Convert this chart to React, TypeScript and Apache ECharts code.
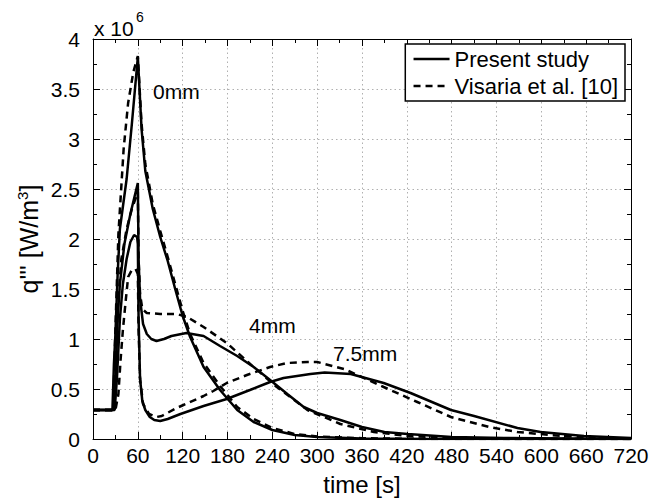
import React, { useEffect, useRef } from "react";
import * as echarts from "echarts";

const FONT = "'Liberation Sans', Arial, Helvetica, sans-serif";

// x-axis ticks (time [s]) and y-axis ticks (x 10^6 W/m^3)
const X_MIN = 0;
const X_MAX = 720;
const X_STEP = 60;
const Y_MIN = 0;
const Y_MAX = 4;
const Y_STEP = 0.5;

// Present study (solid)
const present0T = [0, 26, 28, 30, 33, 36, 45, 52, 60, 65, 70, 80, 90, 100, 110, 120, 130, 148, 170, 193, 215, 240, 270, 300, 360, 450, 720];
const present0V = [0.29, 0.29, 0.75, 1.05, 1.65, 2.1, 2.6, 3.15, 3.82, 3.1, 2.68, 2.3, 2.02, 1.78, 1.5, 1.23, 1.02, 0.72, 0.49, 0.29, 0.17, 0.09, 0.04, 0.02, 0.005, 0, 0];

const present4T = [0, 27, 30, 33, 36, 42, 50, 60, 61, 63, 67, 72, 78, 85, 95, 105, 125, 148, 170, 193, 215, 237, 260, 282, 300, 331, 360, 390, 421, 480, 550, 720];
const present4V = [0.29, 0.29, 0.6, 1.2, 1.55, 1.95, 2.25, 2.56, 1.8, 1.4, 1.15, 1.05, 1.0, 0.98, 1.0, 1.03, 1.06, 1.03, 0.93, 0.83, 0.72, 0.59, 0.45, 0.32, 0.26, 0.19, 0.12, 0.07, 0.05, 0.02, 0.01, 0];

const present75T = [0, 29, 32, 36, 40, 45, 50, 55, 59, 60, 61, 63, 66, 70, 76, 82, 90, 100, 117, 148, 179, 210, 237, 255, 291, 310, 345, 389, 425, 479, 510, 568, 599, 657, 720];
const present75V = [0.29, 0.29, 0.6, 1.2, 1.55, 1.8, 1.97, 2.04, 2.02, 1.95, 1.2, 0.6, 0.38, 0.29, 0.22, 0.19, 0.18, 0.2, 0.25, 0.33, 0.4, 0.49, 0.57, 0.61, 0.65, 0.665, 0.65, 0.56, 0.46, 0.29, 0.23, 0.11, 0.07, 0.03, 0.01];

// Visaria et al. [10] (dashed)
const visaria0T = [0, 27, 30, 34, 41, 47, 54, 60, 65, 70, 80, 90, 100, 110, 120, 130, 148, 170, 193, 215, 240, 270, 300, 360, 450, 720];
const visaria0V = [0.29, 0.29, 1.1, 2.05, 2.9, 3.36, 3.67, 3.83, 3.15, 2.75, 2.35, 2.08, 1.82, 1.55, 1.28, 1.05, 0.76, 0.53, 0.32, 0.2, 0.11, 0.05, 0.025, 0.008, 0, 0];

const visaria4T = [0, 27, 30, 33, 38, 45, 52, 60, 61, 63, 66, 72, 90, 112, 126, 148, 179, 215, 246, 287, 331, 376, 421, 480, 560, 720];
const visaria4V = [0.29, 0.29, 0.65, 1.3, 1.8, 2.1, 2.3, 2.47, 1.8, 1.45, 1.3, 1.26, 1.25, 1.25, 1.22, 1.12, 0.96, 0.72, 0.52, 0.29, 0.15, 0.07, 0.03, 0.01, 0, 0];

const visaria75T = [0, 30, 34, 37, 40, 44, 47, 52, 57, 60, 61, 63, 67, 75, 85, 92, 112, 121, 148, 161, 179, 206, 237, 260, 287, 300, 336, 389, 434, 479, 530, 568, 613, 657, 720];
const visaria75V = [0.29, 0.29, 0.45, 0.8, 1.09, 1.4, 1.62, 1.69, 1.7, 1.65, 1.1, 0.6, 0.35, 0.25, 0.22, 0.23, 0.31, 0.34, 0.43, 0.48, 0.56, 0.64, 0.72, 0.76, 0.77, 0.77, 0.7, 0.52, 0.37, 0.22, 0.12, 0.07, 0.04, 0.015, 0];

const SOLID_NAME = "Present study";
const DASHED_NAME = "Visaria et al. [10]";

const zip = (t: number[], v: number[]) => t.map((x, i) => [x, v[i]]);

export default function App() {
  const ref = useRef<HTMLDivElement>(null);

  useEffect(() => {
    document.body.style.margin = "0";
    const chart = echarts.init(ref.current!, null, { renderer: "svg" });

    const solid = (t: number[], v: number[]) => ({
      type: "line",
      name: SOLID_NAME,
      data: zip(t, v),
      showSymbol: false,
      symbol: "none",
      lineStyle: { color: "#000", width: 2.5, type: "solid" },
      itemStyle: { color: "#000" },
      z: 3,
    });
    const dashed = (t: number[], v: number[]) => ({
      type: "line",
      name: DASHED_NAME,
      data: zip(t, v),
      showSymbol: false,
      symbol: "none",
      lineStyle: { color: "#000", width: 2.5, type: [7, 5] },
      itemStyle: { color: "#000" },
      z: 3,
    });

    const tickCommon = {
      axisLine: { show: true, onZero: false, lineStyle: { color: "#000", width: 1 } },
      axisTick: { show: true, inside: true, length: 7, lineStyle: { color: "#000", width: 1 } },
      minorTick: { show: true, splitNumber: 2, length: 4, lineStyle: { color: "#000", width: 1 } },
    };

    chart.setOption({
      animation: false,
      backgroundColor: "#fff",
      grid: { left: 93, top: 39, width: 538, height: 400, containLabel: false, outerBoundsMode: "none" },
      legend: {
        data: [SOLID_NAME, DASHED_NAME],
        orient: "vertical",
        right: 27,
        top: 44,
        itemWidth: 36,
        itemHeight: 14,
        itemGap: 5,
        padding: [4, 7, 4, 7],
        backgroundColor: "#fff",
        borderColor: "#000",
        borderWidth: 1.5,
        borderRadius: 0,
        itemStyle: { color: "rgba(0,0,0,0)", borderWidth: 0, opacity: 0 },
        lineStyle: { width: 2.5 },
        textStyle: { fontSize: 22, color: "#000", fontFamily: FONT },
      },
      xAxis: [
        {
          type: "value",
          min: X_MIN,
          max: X_MAX,
          interval: X_STEP,
          position: "bottom",
          name: "time [s]",
          nameLocation: "middle",
          nameGap: 33,
          nameMoveOverlap: false,
          nameTextStyle: { fontSize: 24, color: "#000", fontFamily: FONT },
          axisLabel: { fontSize: 21, color: "#000", fontFamily: FONT, margin: 6 },
          splitLine: { show: true, lineStyle: { color: "#b0b0b0", width: 1, type: [1.5, 3] } },
          ...tickCommon,
        },
        {
          type: "value",
          min: X_MIN,
          max: X_MAX,
          interval: X_STEP,
          position: "top",
          axisLabel: { show: false },
          splitLine: { show: false },
          ...tickCommon,
        },
      ],
      yAxis: [
        {
          type: "value",
          min: Y_MIN,
          max: Y_MAX,
          interval: Y_STEP,
          position: "left",
          name: "q''' [W/m{sup|3}]",
          nameLocation: "middle",
          nameGap: 51,
          nameMoveOverlap: false,
          nameTextStyle: {
            fontSize: 25,
            color: "#000",
            fontFamily: FONT,
            rich: {
              sup: { fontSize: 15, verticalAlign: "top", fontFamily: FONT, color: "#000", padding: [0, 0, 12, 0] },
            },
          },
          axisLabel: { fontSize: 21, color: "#000", fontFamily: FONT, margin: 13 },
          splitLine: { show: true, lineStyle: { color: "#b0b0b0", width: 1, type: [1.5, 3] } },
          ...tickCommon,
        },
        {
          type: "value",
          min: Y_MIN,
          max: Y_MAX,
          interval: Y_STEP,
          position: "right",
          axisLabel: { show: false },
          splitLine: { show: false },
          ...tickCommon,
        },
      ],
      graphic: [
        { type: "text", x: 94, y: 28, style: { text: "x 10", fontSize: 21, fontFamily: FONT, fill: "#000", verticalAlign: "middle" } },
        { type: "text", x: 136, y: 17, style: { text: "6", fontSize: 14, fontFamily: FONT, fill: "#000", verticalAlign: "middle" } },
        { type: "text", x: 153, y: 91, style: { text: "0mm", fontSize: 21, fontFamily: FONT, fill: "#000", verticalAlign: "middle" } },
        { type: "text", x: 249, y: 325, style: { text: "4mm", fontSize: 21, fontFamily: FONT, fill: "#000", verticalAlign: "middle" } },
        { type: "text", x: 333, y: 353, style: { text: "7.5mm", fontSize: 21, fontFamily: FONT, fill: "#000", verticalAlign: "middle" } },
      ],
      series: [
        solid(present0T, present0V),
        solid(present4T, present4V),
        solid(present75T, present75V),
        dashed(visaria0T, visaria0V),
        dashed(visaria4T, visaria4V),
        dashed(visaria75T, visaria75V),
      ],
    });

    return () => chart.dispose();
  }, []);

  return <div ref={ref} style={{ width: 652, height: 499 }} />;
}
